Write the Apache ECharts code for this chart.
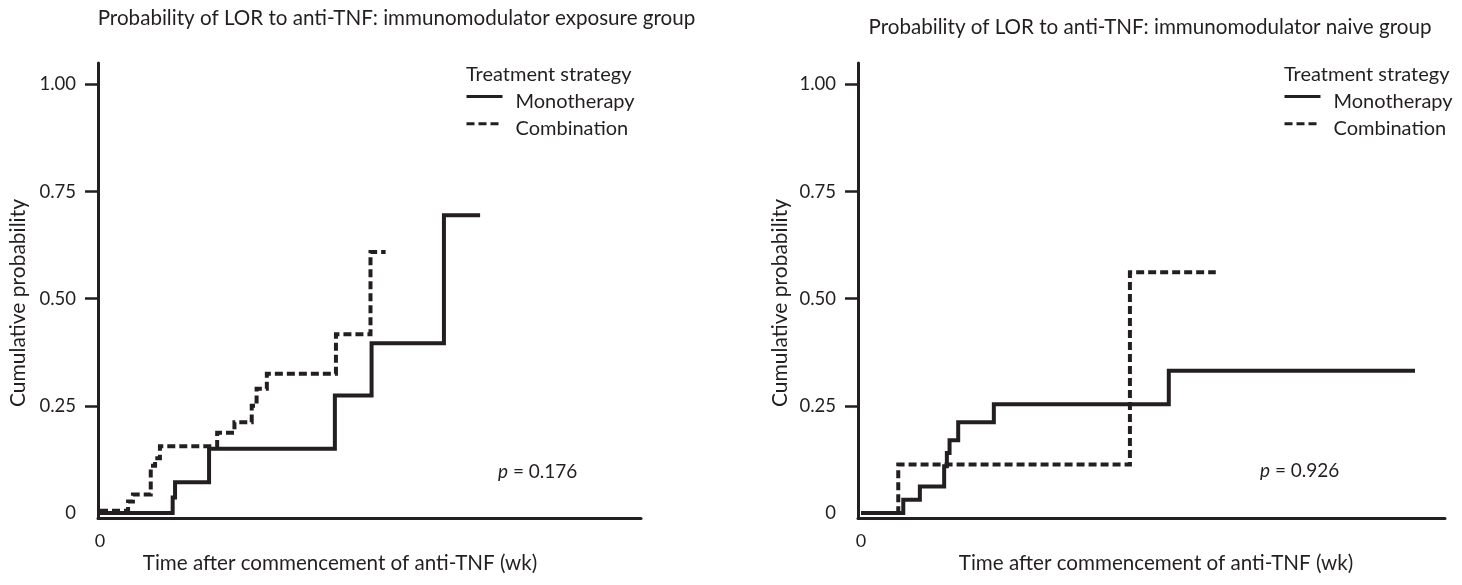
<!DOCTYPE html>
<html>
<head>
<meta charset="utf-8">
<script src="https://cdn.jsdelivr.net/npm/echarts@6/dist/echarts.min.js"></script>
<style>
  html, body { margin: 0; padding: 0; background: #fff; }
  #chart { width: 1462px; height: 585px; }
</style>
</head>
<body>
<div id="chart"></div>
<script>
// ---- Data (x in weeks-like units, y = cumulative probability) ----
const titles = [
  'Probability of LOR to anti-TNF: immunomodulator exposure group',
  'Probability of LOR to anti-TNF: immunomodulator naive group'
];
const pValues = ['0.176', '0.926'];
const seriesNames = ['Monotherapy', 'Combination'];
const yTickValues = [0.25, 0.5, 0.75, 1];
const yLabelValues = [0, 0.25, 0.5, 0.75, 1];

// Exposure group
const expMonoX = [0, 13.46, 13.9, 20.2, 43.5, 50.3, 63.7, 70.4];
const expMonoY = [0, 0.036, 0.072, 0.15, 0.274, 0.396, 0.695, 0.695];
const expCombX = [0, 5.2, 6.1, 9.4, 10.2, 11.1, 21.7, 24.9, 28.1, 29.0, 30.9, 43.7, 50.1, 52.9];
const expCombY = [0.005, 0.027, 0.043, 0.11, 0.128, 0.156, 0.187, 0.212, 0.25, 0.29, 0.325, 0.417, 0.609, 0.609];

// Naive group
const naiMonoX = [0, 7.83, 10.9, 15.4, 15.9, 16.4, 18.0, 24.6, 57.0, 102.6];
const naiMonoY = [0, 0.031, 0.062, 0.109, 0.14, 0.17, 0.212, 0.254, 0.332, 0.332];
const naiCombX = [0, 6.9, 49.8, 65.7];
const naiCombY = [0, 0.113, 0.562, 0.562];

const INK = '#231f20';
const FONT = 'Lato';

function pairs(xs, ys) { return xs.map((x, i) => [x, ys[i]]); }

const grids = [
  { left: 98, top: 63, width: 543, height: 455 },
  { left: 858, top: 63, width: 587, height: 455 }
];
const xRanges = [[-0.37, 100.2], [-0.556, 108.15]];

function xAxisFor(i) {
  return {
    type: 'value', gridIndex: i, min: xRanges[i][0], max: xRanges[i][1],
    axisLine: { show: true, onZero: false, lineStyle: { color: INK, width: 3 } },
    axisTick: { show: false },
    splitLine: { show: false },
    axisLabel: {
      customValues: [0], margin: 14, color: INK, fontFamily: FONT, fontSize: 18,
      formatter: v => String(Math.round(v))
    }
  };
}
function yAxisFor(i) {
  return {
    type: 'value', gridIndex: i, min: -0.0117, max: 1.05,
    axisLine: { show: true, onZero: false, lineStyle: { color: INK, width: 3 } },
    axisTick: { show: true, customValues: yTickValues, length: 13, lineStyle: { color: INK, width: 2.5 } },
    splitLine: { show: false },
    axisLabel: {
      customValues: yLabelValues, margin: 22, color: INK, fontFamily: FONT, fontSize: 18.5,
      formatter: v => (Math.abs(v) < 1e-9 ? '0' : v.toFixed(2))
    }
  };
}

function lineSeries(name, data, i, dashed) {
  return {
    name: name, type: 'line', step: 'end', xAxisIndex: i, yAxisIndex: i,
    data: data, symbol: 'none', silent: true, animation: false,
    itemStyle: { color: INK },
    lineStyle: { color: INK, width: 4, type: dashed ? [8, 4] : 'solid', cap: 'butt', join: 'miter' },
    z: dashed ? 3 : 2
  };
}

const legendLefts = [465, 1283];
const legends = legendLefts.map((l, i) => ({
  orient: 'vertical', left: l, top: 91, padding: 0,
  itemWidth: 36, itemHeight: 14, itemGap: 7,
  data: seriesNames,
  selectedMode: false,
  itemStyle: { opacity: 0 },
  lineStyle: { width: 3 },
  formatter: name => '{t|' + name + '}',
  textStyle: {
    color: INK, fontFamily: FONT, fontSize: 20,
    rich: { t: { color: INK, fontFamily: FONT, fontSize: 20, padding: [9, 0, 0, 8] } }
  }
}));

function textEl(x, y, text, size, align, extra, rotation) {
  return {
    type: 'text', x: x, y: y, silent: true, rotation: rotation || 0,
    style: Object.assign({
      text: text, fill: INK, font: size + 'px ' + FONT,
      textAlign: align || 'center', textVerticalAlign: 'middle'
    }, extra || {})
  };
}

const italicRich = { i: { fontStyle: 'italic', fontSize: 19, fontFamily: FONT, fill: INK } };
const graphics = [
  textEl(396.5, 18, titles[0], 20.6),
  textEl(1150, 27, titles[1], 20.6),
  textEl(340, 563, 'Time after commencement of anti-TNF (wk)', 20.6),
  textEl(1156, 563, 'Time after commencement of anti-TNF (wk)', 20.6),
  textEl(18, 303, 'Cumulative probability', 21, 'center', null, Math.PI / 2),
  textEl(780, 303, 'Cumulative probability', 21, 'center', null, Math.PI / 2),
  textEl(466, 75, 'Treatment strategy', 20, 'left'),
  textEl(1284, 75, 'Treatment strategy', 20, 'left'),
  textEl(498, 472, '{i|p} = ' + pValues[0], 19, 'left', { rich: italicRich }),
  textEl(1260, 471, '{i|p} = ' + pValues[1], 19, 'left', { rich: italicRich })
];

const chart = echarts.init(document.getElementById('chart'), null, { renderer: 'canvas' });
chart.setOption({
  animation: false,
  backgroundColor: '#ffffff',
  grid: grids,
  xAxis: [xAxisFor(0), xAxisFor(1)],
  yAxis: [yAxisFor(0), yAxisFor(1)],
  legend: legends,
  graphic: graphics,
  series: [
    lineSeries(seriesNames[0], pairs(expMonoX, expMonoY), 0, false),
    lineSeries(seriesNames[1], pairs(expCombX, expCombY), 0, true),
    lineSeries(seriesNames[0], pairs(naiMonoX, naiMonoY), 1, false),
    lineSeries(seriesNames[1], pairs(naiCombX, naiCombY), 1, true)
  ]
});
</script>
</body>
</html>
